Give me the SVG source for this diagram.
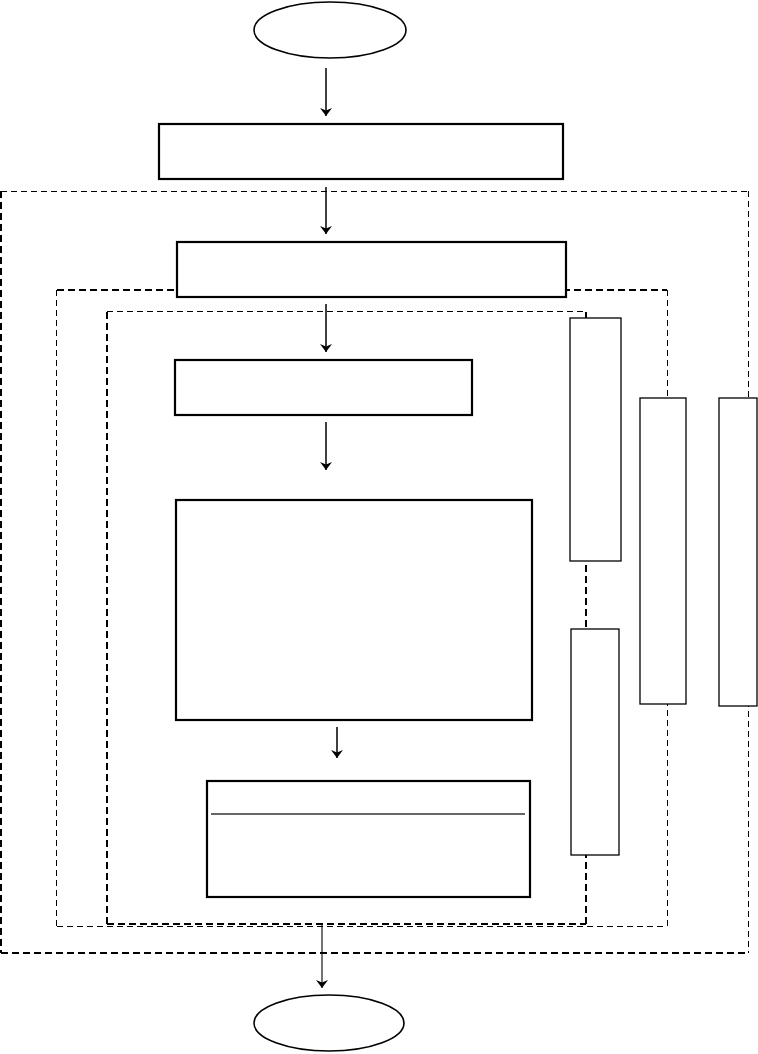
<svg xmlns="http://www.w3.org/2000/svg" width="758" height="1054" viewBox="0 0 758 1054">
<style>
.bg{fill:#fff}
.box{fill:#fff;stroke:#000;stroke-width:2.2}
.side{fill:#fff;stroke:#000;stroke-width:1.3}
.term{fill:#fff;stroke:#000;stroke-width:1.6}
.dthin{fill:none;stroke:#000;stroke-width:1.2;stroke-dasharray:6,4;shape-rendering:crispEdges}
.dthick{fill:none;stroke:#000;stroke-width:2;stroke-dasharray:7,4;shape-rendering:crispEdges}
.arr{fill:none;stroke:#000;stroke-width:1.5;marker-end:url(#ah)}
.arrt{fill:none;stroke:#000;stroke-width:1.1;marker-end:url(#ah)}
</style>
<defs>
<marker id="ah" viewBox="0 0 8 12" refX="8" refY="6" markerWidth="8" markerHeight="12" markerUnits="userSpaceOnUse" orient="auto">
<path d="M0,0 L8,6 L0,12 L2.5,6 Z" fill="#000"/>
</marker>
</defs>
<rect class="bg" x="0" y="0" width="758" height="1054"/>
<g id="frames">
<g id="frame-outer">
<line class="dthin" x1="1" y1="191.5" x2="749" y2="191.5"/>
<line class="dthin" x1="748.5" y1="191" x2="748.5" y2="953"/>
<line class="dthick" x1="1" y1="191" x2="1" y2="953"/>
<line class="dthick" x1="1" y1="953" x2="749" y2="953"/>
</g>
<g id="frame-middle">
<line class="dthick" x1="57" y1="290" x2="667" y2="290"/>
<line class="dthin" x1="667.5" y1="290" x2="667.5" y2="927"/>
<line class="dthin" x1="56.5" y1="290" x2="56.5" y2="927"/>
<line class="dthin" x1="57" y1="926.5" x2="667" y2="926.5"/>
</g>
<g id="frame-inner">
<line class="dthin" x1="107" y1="311.5" x2="586" y2="311.5"/>
<line class="dthick" x1="586" y1="312" x2="586" y2="924"/>
<line class="dthick" x1="107" y1="312" x2="107" y2="924"/>
<line class="dthick" x1="107" y1="924" x2="586" y2="924"/>
</g>
</g>
<g id="connectors">
<line class="arr" x1="326" y1="68" x2="326" y2="116"/>
<line class="arr" x1="326" y1="187" x2="326" y2="234"/>
<line class="arr" x1="326" y1="304" x2="326" y2="352"/>
<line class="arr" x1="326" y1="422" x2="326" y2="470"/>
<line class="arr" x1="337" y1="727" x2="337" y2="758"/>
<line class="arrt" x1="322" y1="924" x2="322" y2="988"/>
</g>
<g id="start"><ellipse class="term" cx="330" cy="30" rx="76" ry="28"/></g>
<g id="box1"><rect class="box" x="159" y="124" width="404" height="55"/></g>
<g id="box2"><rect class="box" x="177" y="242" width="389" height="55"/></g>
<g id="box3"><rect class="box" x="175" y="360" width="297" height="55"/></g>
<g id="box4"><rect class="box" x="176" y="500" width="356" height="220"/></g>
<g id="box5"><rect class="box" x="207" y="781" width="323" height="116"/><line x1="211" y1="814" x2="525" y2="814" stroke="#333" stroke-width="1.5"/></g>
<g id="sideA"><rect class="side" x="570" y="318" width="51" height="243"/></g>
<g id="sideB"><rect class="side" x="571" y="629" width="48" height="226"/></g>
<g id="sideC"><rect class="side" x="640" y="398" width="46" height="306"/></g>
<g id="sideD"><rect class="side" x="719" y="398" width="38" height="308"/></g>
<g id="end"><ellipse class="term" cx="329" cy="1023" rx="75" ry="28"/></g>
</svg>
